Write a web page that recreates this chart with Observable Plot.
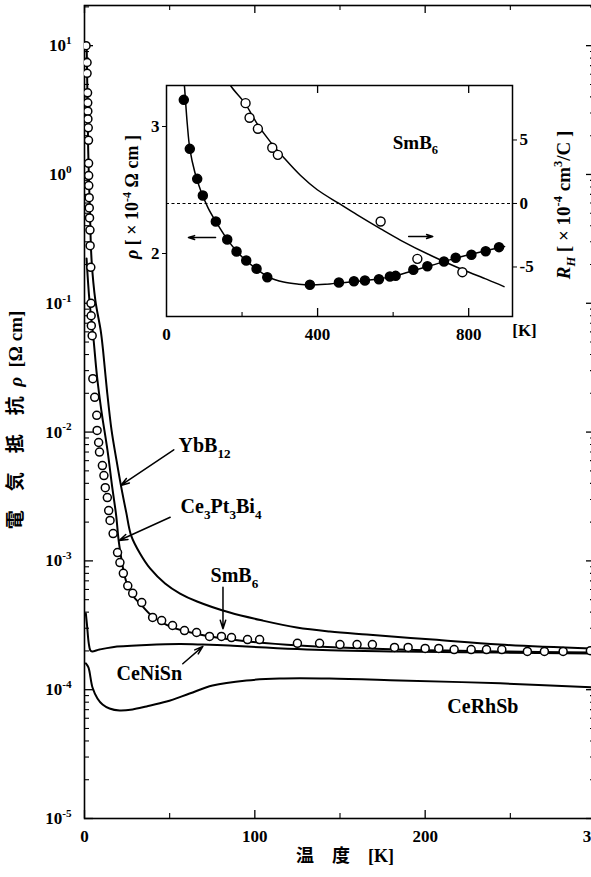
<!DOCTYPE html>
<html>
<head>
<meta charset="utf-8">
<script src="https://cdn.jsdelivr.net/npm/d3@7"></script>
<script src="https://cdn.jsdelivr.net/npm/@observablehq/plot@0.6"></script>
<style>
  html, body { margin: 0; padding: 0; background: #fff; overflow: hidden; }
  #wrap { position: relative; width: 591px; height: 877px; overflow: hidden; background: #fff; }
  #wrap svg { position: absolute; max-width: none; background: transparent; }
</style>
</head>
<body>
<div id="wrap"></div>
<script>
// ---------- main panel: resistivity (Ω cm) versus temperature (K) ----------
const smb6T = [0.9, 1.5, 1.5, 1.8, 1.9, 1.95, 2.0, 2.2, 2.35, 2.4, 2.45, 2.5, 2.75, 2.8, 2.95, 3.2, 3.3, 3.7, 3.8, 3.9, 4.0, 4.5, 4.9, 6.0, 7.2, 7.4, 8.3, 8.8, 10.5, 11.4, 12.2, 13.4, 14.2, 15.0, 16.8, 19.4, 20.8, 22.8, 25.4, 28.3, 33.6, 40.0, 45.3, 51.7, 58.7, 65.8, 73.4, 80.4, 86.3, 95.7, 102.8, 125, 138, 150, 160, 169, 182, 190, 200, 208, 217, 227, 236, 245, 260, 270, 281, 297];
const smb6Rho = [10.0, 7.4, 6.1, 4.3, 3.6, 3.1, 2.7, 2.3, 1.84, 1.22, 0.98, 0.82, 0.66, 0.55, 0.46, 0.37, 0.28, 0.19, 0.10, 0.080, 0.067, 0.056, 0.026, 0.0186, 0.0135, 0.0103, 0.0083, 0.0070, 0.0055, 0.0046, 0.0037, 0.0031, 0.00246, 0.00206, 0.00163, 0.00116, 0.00097, 0.00080, 0.00064, 0.00056, 0.000475, 0.000364, 0.000344, 0.000315, 0.000288, 0.000278, 0.000259, 0.000259, 0.000254, 0.000245, 0.000245, 0.000229, 0.000229, 0.000224, 0.000224, 0.000224, 0.000213, 0.000213, 0.000209, 0.000209, 0.000205, 0.000205, 0.000205, 0.000205, 0.000198, 0.000198, 0.000198, 0.000201];

const ybb12T = [1.3, 1.76, 2.17, 3.17, 4.17, 6.4, 9.5, 10.9, 13.2, 15.9, 18.8, 21.6, 24.5, 27.4, 32.6, 38.5, 47.3, 56.1, 66.1, 85.3, 104.6, 124.6, 144, 165.7, 204.5, 243.8, 300];
const ybb12Rho = [9.5, 3.76, 1.54, 0.525, 0.215, 0.105, 0.0615, 0.0431, 0.0210, 0.0103, 0.00603, 0.00372, 0.00238, 0.00157, 0.00114, 0.000873, 0.000668, 0.000558, 0.000484, 0.000397, 0.000344, 0.000304, 0.000283, 0.000268, 0.000245, 0.000224, 0.000208];

const ce3pt3bi4T = [1.2, 2.9, 5.1, 7.3, 9.9, 13.5, 16.3, 18.6, 20.3, 24.3, 28.3, 33.6, 40, 50, 67.6, 91, 126, 185, 244, 300];
const ce3pt3bi4Rho = [0.223, 0.105, 0.0562, 0.0275, 0.0147, 0.0072, 0.00372, 0.00225, 0.00136, 0.000705, 0.000538, 0.000451, 0.000370, 0.00031, 0.000268, 0.000241, 0.000220, 0.000205, 0.000198, 0.000194];

const ceniSnT = [0.8, 1.5, 2.5, 3.5, 4.5, 8.8, 16.4, 36.4, 55.8, 69.3, 85, 95, 144, 185, 244, 300];
const ceniSnRho = [3.9e-4, 3.15e-4, 2.29e-4, 2.01e-4, 1.98e-4, 2.05e-4, 2.14e-4, 2.22e-4, 2.26e-4, 2.24e-4, 2.2e-4, 2.16e-4, 2.02e-4, 1.98e-4, 1.94e-4, 1.91e-4];

const cerhSbT = [0.8, 2.3, 4.7, 7.6, 10.6, 14.7, 20.6, 28.2, 36.4, 48.2, 61.7, 75.2, 95.1, 114.5, 143.8, 185, 244, 300];
const cerhSbRho = [1.60e-4, 1.49e-4, 1.04e-4, 8.55e-5, 7.67e-5, 7.14e-5, 6.89e-5, 7.02e-5, 7.41e-5, 8.09e-5, 9.34e-5, 1.078e-4, 1.18e-4, 1.22e-4, 1.22e-4, 1.18e-4, 1.12e-4, 1.04e-4];

// axis ticks of the main panel
const yDecades = [-5, -4, -3, -2, -1, 0, 1];
const xMajor = [0, 100, 200, 300];
const xMinor = [50, 150, 250];

// ---------- inset: SmB6 up to 900 K ----------
// filled circles: ρ (×10⁻⁴ Ω cm), left axis
const insetRhoT = [45.8, 61.7, 81.3, 96.2, 130.6, 160.8, 185.4, 211.1, 238.4, 266.8, 379.6, 456.4, 496.2, 525.3, 562.4, 591.5, 606.6, 653.5, 690.6, 734.6, 765.6, 807.2, 845.0, 880.3];
const insetRho = [3.21, 2.824, 2.588, 2.457, 2.252, 2.110, 2.016, 1.945, 1.880, 1.813, 1.754, 1.772, 1.782, 1.787, 1.798, 1.819, 1.824, 1.872, 1.900, 1.937, 1.966, 1.990, 2.018, 2.050];
const insetRhoFitT = [44, 48, 55, 62, 75, 90, 110, 130, 160, 185, 210, 240, 270, 310, 350, 380, 420, 460, 500, 550, 600, 650, 700, 750, 800, 850, 895];
const insetRhoFit = [3.45, 3.30, 3.02, 2.82, 2.64, 2.50, 2.36, 2.255, 2.115, 2.02, 1.945, 1.875, 1.815, 1.775, 1.758, 1.752, 1.757, 1.768, 1.78, 1.795, 1.82, 1.862, 1.905, 1.95, 1.99, 2.025, 2.055];
// open circles: Hall coefficient R_H (×10⁻⁴ cm³/C), right axis
const insetHallT = [209.3, 219.9, 241.9, 280.0, 294.8, 566.9, 664.1, 783.3];
const insetHall = [7.9, 6.75, 5.88, 4.39, 3.83, -1.42, -4.36, -5.41];
const insetHallFitT = [160, 169.5, 207.5, 240.2, 275.5, 310.8, 355, 399.1, 456.6, 505, 567, 620, 700, 783, 850, 893.5];
const insetHallFit = [10.0, 9.29, 7.90, 6.27, 4.83, 3.60, 2.20, 1.08, 0, -0.9, -2.0, -2.9, -4.1, -5.2, -6.0, -6.55];

const insetXMajor = [400, 800];
const insetXMinor = [200, 600];
const insetXLabels = [0, 400, 800];
const insetRhoTicks = [2, 3];
const insetHallTicks = [-5, 0, 5];

// Hall values share the ρ axis: R_H = 0 sits at ρ = 2.394, 10 units of R_H per unit of ρ
const HALL_ZERO = 2.394, HALL_PER_RHO = 10;
const hallToRho = r => HALL_ZERO + r / HALL_PER_RHO;

const SERIF = "'Liberation Serif', 'Noto Sans CJK JP', serif";

const zipPts = (xs, ys) => xs.map((x, i) => ({x, y: ys[i]}));

// ---------- main plot ----------
const W = 600, H = 877, ML = 84, MR = 5, MT = 5, MB = 59;
const PW = W - ML - MR, PH = H - MT - MB;

const yMajorVals = yDecades.map(e => 10 ** e);
const yMinorVals = yDecades.flatMap(e => d3.range(2, 10).map(k => k * 10 ** e)).filter(v => v <= 20.5);

// annotation anchors (data units)
const mainLabels = [
  {text: "YbB_{12}", T: 55.2, rho: 7.9e-3},
  {text: "Ce_{3}Pt_{3}Bi_{4}", T: 56.4, rho: 2.64e-3},
  {text: "SmB_{6}", T: 74, rho: 7.7e-4},
  {text: "CeNiSn", T: 18.8, rho: 1.34e-4},
  {text: "CeRhSb", T: 213, rho: 7.41e-5}
];
const mainArrows = [
  {T1: 52.4, r1: 7.29e-3, T2: 21.3, r2: 3.85e-3},
  {T1: 50.3, r1: 2.18e-3, T2: 20.3, r2: 1.44e-3},
  {T1: 81.3, r1: 6.25e-4, T2: 81.3, r2: 2.97e-4},
  {T1: 57.7, r1: 1.59e-4, T2: 69.5, r2: 2.17e-4}
];

const lineOpts = {x: "x", y: "y", curve: "catmull-rom", stroke: "black", strokeWidth: 2, clip: true};

const mainPlot = Plot.plot({
  width: W, height: H,
  marginLeft: ML, marginRight: MR, marginTop: MT, marginBottom: MB,
  style: {fontFamily: SERIF, background: "transparent"},
  x: {domain: [0, 300]},
  y: {type: "log", domain: [1e-5, 20.5]},
  marks: [
    Plot.frame({stroke: "black", strokeWidth: 1.6}),
    // inward ticks on all four sides
    Plot.tickY(yMajorVals, {y: d => d, insetRight: PW - 9, strokeWidth: 1.3}),
    Plot.tickY(yMinorVals, {y: d => d, insetRight: PW - 5, strokeWidth: 1.1}),
    Plot.tickY(yMajorVals, {y: d => d, insetLeft: PW - 9, strokeWidth: 1.3}),
    Plot.tickY(yMinorVals, {y: d => d, insetLeft: PW - 5, strokeWidth: 1.1}),
    Plot.tickX(xMajor, {x: d => d, insetTop: PH - 8, strokeWidth: 1.3}),
    Plot.tickX(xMinor, {x: d => d, insetTop: PH - 5, strokeWidth: 1.1}),
    Plot.tickX(xMajor, {x: d => d, insetBottom: PH - 8, strokeWidth: 1.3}),
    Plot.tickX(xMinor, {x: d => d, insetBottom: PH - 5, strokeWidth: 1.1}),
    // curves
    Plot.line(zipPts(cerhSbT, cerhSbRho), lineOpts),
    Plot.line(zipPts(ceniSnT, ceniSnRho), lineOpts),
    Plot.line(zipPts(ce3pt3bi4T, ce3pt3bi4Rho), lineOpts),
    Plot.line(zipPts(ybb12T, ybb12Rho), lineOpts),
    Plot.dot(zipPts(smb6T, smb6Rho), {x: "x", y: "y", r: 4, fill: "white", stroke: "black", strokeWidth: 1.5, clip: true}),
    // annotations
    Plot.arrow(mainArrows, {x1: "T1", y1: "r1", x2: "T2", y2: "r2", stroke: "black", strokeWidth: 1.5, headLength: 9, headAngle: 35}),
    Plot.text(mainLabels, {x: "T", y: "rho", text: "text", textAnchor: "start", fontSize: 20, fontWeight: "bold", fill: "black"}),
    // axes and titles
    Plot.axisY({ticks: yMajorVals, tickSize: 0, tickPadding: 13, fontSize: 17, fontWeight: "bold", label: null,
      tickFormat: d => `10^{${Math.round(Math.log10(d))}}`}),
    Plot.axisX({ticks: xMajor, tickSize: 0, tickPadding: 11, fontSize: 17, fontWeight: "bold", label: null}),
    Plot.text(["温\u2003度\u2003[K]"], {text: d => d, frameAnchor: "bottom", textAnchor: "middle", dx: 5, dy: 43, fontSize: 18, fontWeight: "bold"}),
    Plot.text(["電\u2003気\u2003抵\u2003抗\u2002*ρ*\u2002[Ω cm]"], {text: d => d, frameAnchor: "left", textAnchor: "middle", rotate: -90, dx: -69, dy: 8, fontSize: 19, fontWeight: "bold"})
  ]
});

// ---------- inset plot ----------
const IW = 480, IH = 275, IML = 56, IMR = 78, IMT = 10, IMB = 34;
const IPH = IH - IMT - IMB;

const insetLabels = [{text: "SmB_{6}", T: 599, rho: 2.874}];
const insetArrows = [
  {T1: 130, r1: 2.126, T2: 58, r2: 2.126},
  {T1: 641, r1: 2.134, T2: 705, r2: 2.134}
];

const insetPlot = Plot.plot({
  width: IW, height: IH,
  marginLeft: IML, marginRight: IMR, marginTop: IMT, marginBottom: IMB,
  style: {fontFamily: SERIF, background: "transparent"},
  x: {domain: [0, 916]},
  y: {domain: [1.504, 3.323]},
  marks: [
    Plot.frame({stroke: "black", strokeWidth: 1.5}),
    Plot.ruleY([hallToRho(0)], {stroke: "black", strokeWidth: 1.2, strokeDasharray: "3,2.5"}),
    Plot.tickX(insetXMajor, {x: d => d, insetTop: IPH - 8, strokeWidth: 1.3}),
    Plot.tickX(insetXMajor, {x: d => d, insetBottom: IPH - 8, strokeWidth: 1.3}),
    Plot.tickX(insetXMinor, {x: d => d, insetTop: IPH - 4, strokeWidth: 1.1}),
    Plot.line(zipPts(insetRhoFitT, insetRhoFit), {x: "x", y: "y", curve: "catmull-rom", strokeWidth: 1.5, clip: true}),
    Plot.line(zipPts(insetHallFitT, insetHallFit.map(hallToRho)), {x: "x", y: "y", curve: "catmull-rom", strokeWidth: 1.5, clip: true}),
    Plot.dot(zipPts(insetRhoT, insetRho), {x: "x", y: "y", r: 4.5, fill: "black", stroke: "black"}),
    Plot.dot(zipPts(insetHallT, insetHall.map(hallToRho)), {x: "x", y: "y", r: 4.5, fill: "white", stroke: "black", strokeWidth: 1.4}),
    Plot.arrow(insetArrows, {x1: "T1", y1: "r1", x2: "T2", y2: "r2", stroke: "black", strokeWidth: 1.4, headLength: 7, headAngle: 35}),
    Plot.text(insetLabels, {x: "T", y: "rho", text: "text", textAnchor: "start", fontSize: 19, fontWeight: "bold"}),
    Plot.axisX({ticks: insetXLabels, tickSize: 0, tickPadding: 11, fontSize: 17, fontWeight: "bold", label: null}),
    Plot.axisY({anchor: "left", ticks: insetRhoTicks, tickSize: 4, tickPadding: 3, fontSize: 17, fontWeight: "bold", label: null,
      tickFormat: d => String(d)}),
    Plot.axisY({anchor: "right", ticks: insetHallTicks.map(hallToRho), tickSize: 4, tickPadding: 3, fontSize: 17, fontWeight: "bold", label: null,
      tickFormat: d => { const r = Math.round((d - HALL_ZERO) * HALL_PER_RHO); return r < 0 ? "-" + (-r) : String(r); }}),
    Plot.text(["[K]"], {text: d => d, frameAnchor: "bottom-right", textAnchor: "middle", dx: 12, dy: 19, fontSize: 17, fontWeight: "bold"}),
    Plot.text(["*ρ* [ × 10^{-4} Ω cm ]"], {text: d => d, frameAnchor: "left", textAnchor: "middle", rotate: -90, dx: -34, dy: -4, fontSize: 18, fontWeight: "bold"}),
    Plot.text(["*R*_{*H*} [ × 10^{-4} cm^{3}/C ]"], {text: d => d, frameAnchor: "right", textAnchor: "middle", rotate: -90, dx: 51, dy: 4, fontSize: 19, fontWeight: "bold"})
  ]
});

const wrap = document.getElementById("wrap");
mainPlot.style.left = "0px"; mainPlot.style.top = "0px";
insetPlot.style.left = "110px"; insetPlot.style.top = "75px";
wrap.appendChild(mainPlot);
wrap.appendChild(insetPlot);

// Turn the light markup (_{sub}, ^{sup}, *italic*) used in labels into tspans.
function richText(root) {
  const NS = "http://www.w3.org/2000/svg";
  for (const t of root.querySelectorAll("text")) {
    const src = t.textContent;
    if (!/[_^*]/.test(src) || t.querySelector("tspan")) continue;
    const size = parseFloat(getComputedStyle(t).fontSize) || 16;
    t.textContent = "";
    let offset = 0;
    const re = /_\{([^}]*)\}|\^\{([^}]*)\}|\*([^*]+)\*|([^_^*]+)/g;
    for (const m of src.matchAll(re)) {
      const ts = document.createElementNS(NS, "tspan");
      let body, target = 0, scale = 1;
      if (m[1] != null) { body = m[1]; target = 0.3 * size; scale = 0.66; }
      else if (m[2] != null) { body = m[2]; target = -0.42 * size; scale = 0.66; }
      else if (m[3] != null) { body = m[3]; ts.setAttribute("font-style", "italic"); }
      else { body = m[4]; }
      if (/^\*.*\*$/.test(body)) { body = body.slice(1, -1); ts.setAttribute("font-style", "italic"); }
      if (scale !== 1) ts.setAttribute("font-size", (size * scale).toFixed(1));
      const dy = target - offset;
      if (dy) ts.setAttribute("dy", dy.toFixed(2));
      offset = target;
      ts.textContent = body;
      t.appendChild(ts);
    }
  }
}
richText(mainPlot);
richText(insetPlot);
</script>
</body>
</html>
